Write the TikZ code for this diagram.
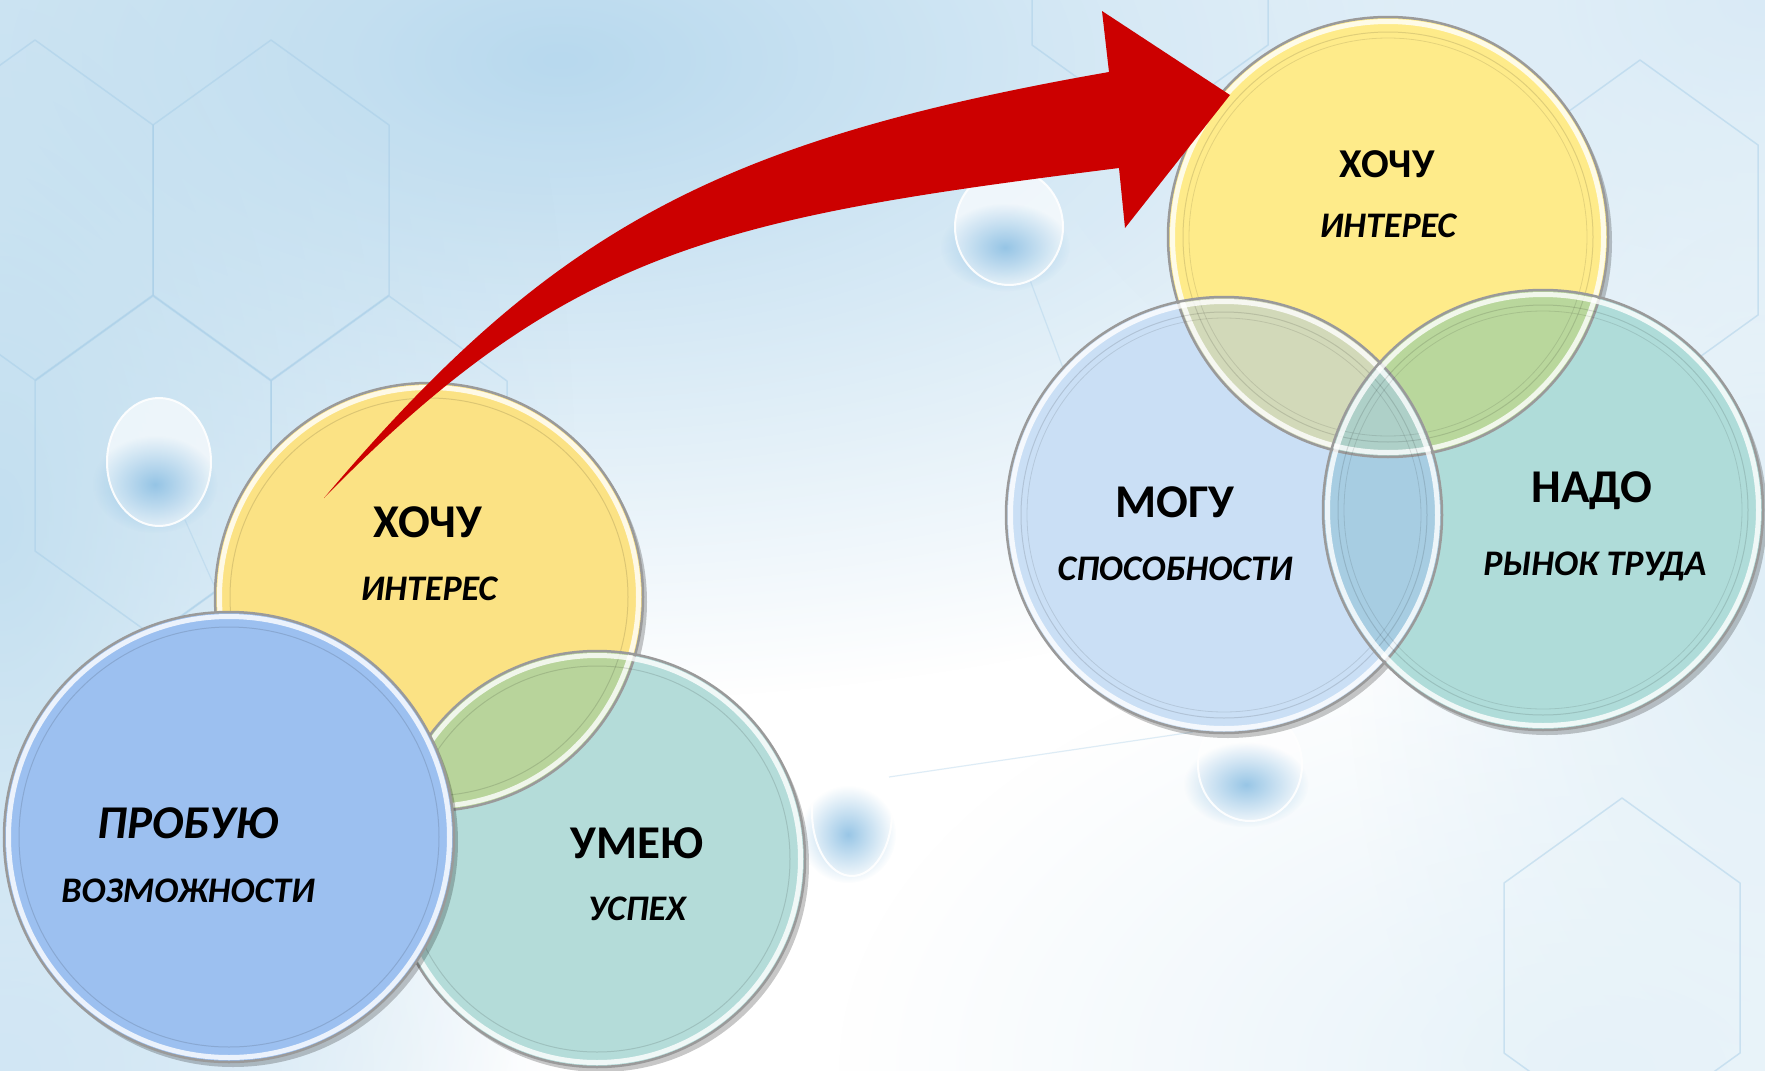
\documentclass[tikz,border=0pt]{standalone}
\usepackage{fontspec}
\setmainfont{Carlito}
\usetikzlibrary{fadings,calc}
\tikzfading[name=softblob, inner color=transparent!0, outer color=transparent!100]
\definecolor{bgblue}{HTML}{B8D9EE}
\definecolor{hexblue}{HTML}{A3CBE6}
\definecolor{lyel}{HTML}{FBE284}
\definecolor{lteal}{HTML}{B4DCD9}
\definecolor{lblue}{HTML}{9CC0F0}
\definecolor{llens}{HTML}{B8D49B}
\definecolor{ryel}{HTML}{FEEB8A}
\definecolor{rblue}{HTML}{CADFF5}
\definecolor{rteal}{HTML}{AFDCD9}
\definecolor{ryb}{HTML}{D2D9B9}
\definecolor{ryt}{HTML}{B9D79C}
\definecolor{rbt}{HTML}{A7CDE2}
\definecolor{rybt}{HTML}{AED0C8}
\definecolor{arrowred}{HTML}{CC0000}
\definecolor{rimgray}{HTML}{9A9A9A}
\definecolor{bubblue}{HTML}{7FB8E0}
\newcommand\crim[2]{%
  \draw[rimgray, line width=2.5pt] (#1) circle [radius=#2];
  \draw[white, line width=5pt, opacity=0.8] (#1) circle [radius=#2-4.5];
  \draw[black, opacity=0.12, line width=1pt] (#1) circle [radius=#2-15];
}
\newcommand\cinner[2]{%
  \draw[black, opacity=0.10, line width=0.8pt] (#1) circle [radius=#2-21];
}
\newcommand\cshadow[2]{%
  \fill[black, opacity=0.22] ($(#1)+(4,5)$) circle [radius=#2];
}
\newcommand\myhex[2]{%
  \draw[hexstyle] (#1,#2-170) -- (#1+118,#2-85) -- (#1+118,#2+85) -- (#1,#2+170) -- (#1-118,#2+85) -- (#1-118,#2-85) -- cycle;
}
\newcommand\bubble[4]{% x y rx ry
  \fill[white, opacity=0.65] (#1,#2) ellipse [x radius=#3, y radius=#4];
  \fill[bubblue, opacity=0.8, path fading=softblob] (#1-4,#2+#4*0.35) ellipse [x radius=#3*1.2, y radius=#4*0.76];
  \draw[white, line width=2pt, opacity=0.9] (#1,#2) ellipse [x radius=#3, y radius=#4];
}
\tikzset{
  title/.style={font=\fontsize{47}{47}\selectfont\bfseries, inner sep=0pt, anchor=base},
  ititle/.style={font=\fontsize{47}{47}\selectfont\bfseries\itshape, inner sep=0pt, anchor=base},
  rtitle/.style={font=\fontsize{41}{41}\selectfont\bfseries, inner sep=0pt, anchor=base},
  sub/.style={font=\fontsize{36}{36}\selectfont\bfseries\itshape, inner sep=0pt, anchor=base},
  hexstyle/.style={draw=hexblue, line width=1.5pt, opacity=0.45, line join=round},
}
\begin{document}
\begin{tikzpicture}[x=1pt,y=-1pt]
\useasboundingbox (0,0) rectangle (1765,1071);
\fill[white] (0,0) rectangle (1765,1071);
% background
\fill[bgblue, path fading=softblob] (560,60) ellipse [x radius=1300, y radius=640];
\fill[bgblue!85, path fading=softblob] (0,520) ellipse [x radius=580, y radius=1150];
\fill[bgblue!55, path fading=softblob] (1765,0) ellipse [x radius=760, y radius=520];
\fill[bgblue!45, path fading=softblob] (1765,600) ellipse [x radius=420, y radius=760];
\fill[bgblue!35, path fading=softblob] (1600,1071) ellipse [x radius=760, y radius=460];
\fill[bgblue!65, path fading=softblob] (0,1071) ellipse [x radius=560, y radius=460];
\myhex{271}{210}
\myhex{35}{210}
\myhex{153}{466}
\myhex{389}{466}
\myhex{271}{722}
\myhex{1640}{230}
\myhex{1622}{968}
\myhex{1150}{-40}
\draw[hexblue, opacity=0.35, line width=1.2pt] (889,777) -- (1193,732);
\draw[hexblue, opacity=0.35, line width=1.2pt] (1030,280) -- (1075,400);
\draw[hexblue, opacity=0.35, line width=1.2pt] (185,520) -- (225,610);
\bubble{159}{462}{52}{64}
\bubble{1009}{227}{54}{58}
\bubble{1250}{765}{52}{56}
\bubble{852}{812}{40}{64}

% ---------- left group ----------
\coordinate (ly) at (429,597);
\coordinate (lt) at (597,859);
\coordinate (lb) at (229,837);
\cshadow{ly}{214}
\fill[lyel] (ly) circle [radius=214];
\cshadow{lt}{208}
\fill[lteal] (lt) circle [radius=208];
\begin{scope}
  \clip (ly) circle [radius=214];
  \fill[llens] (lt) circle [radius=208];
\end{scope}
\crim{ly}{214}
\crim{lt}{208}
\cshadow{lb}{225}
\fill[lblue] (lb) circle [radius=225];
\crim{lb}{225}

% ---------- right group ----------
\coordinate (ry) at (1388,237);
\coordinate (rb) at (1224,515);
\coordinate (rt) at (1543,510);
\cshadow{ry}{220}
\cshadow{rb}{218}
\cshadow{rt}{220}
\fill[ryel] (ry) circle [radius=220];
\fill[rblue] (rb) circle [radius=218];
\fill[rteal] (rt) circle [radius=220];
\begin{scope}
  \clip (ry) circle [radius=220];
  \fill[ryb] (rb) circle [radius=218];
\end{scope}
\begin{scope}
  \clip (ry) circle [radius=220];
  \fill[ryt] (rt) circle [radius=220];
\end{scope}
\begin{scope}
  \clip (rb) circle [radius=218];
  \fill[rbt] (rt) circle [radius=220];
\end{scope}
\begin{scope}
  \clip (ry) circle [radius=220];
  \clip (rb) circle [radius=218];
  \fill[rybt] (rt) circle [radius=220];
\end{scope}
\crim{ry}{220}\cinner{ry}{220}
\crim{rb}{218}\cinner{rb}{218}
\crim{rt}{220}\cinner{rt}{220}

% ---------- arrow ----------
\coordinate (atail) at (324,498);
\coordinate (aup) at (1109,72);
\coordinate (atop) at (1102,11);
\coordinate (atip) at (1230,95);
\coordinate (abot) at (1125,228);
\coordinate (alow) at (1119,168);
\fill[arrowred] (atail) .. controls (550,231) and (715,141) .. (aup)
  -- (atop) -- (atip) -- (abot) -- (alow)
  .. controls (722,218) and (569,248) .. (atail) -- cycle;

% ---------- texts ----------
\node[title] (lwant) at (428,537) {ХОЧУ};
\node[sub] (linterest) at (429,600) {ИНТЕРЕС};
\node[ititle] (ltry) at (188,838) {ПРОБУЮ};
\node[sub] (lposs) at (188,902) {ВОЗМОЖНОСТИ};
\node[title] (lcan) at (637,858) {УМЕЮ};
\node[sub] (lsucc) at (637,920) {УСПЕХ};
\node[rtitle] (rwant) at (1387,177) {ХОЧУ};
\node[sub] (rinterest) at (1388,237) {ИНТЕРЕС};
\node[title] (rable) at (1175,517) {МОГУ};
\node[sub] (rabil) at (1175,580) {СПОСОБНОСТИ};
\node[title] (rneed) at (1592,502) {НАДО};
\node[sub] (rmarket) at (1595,575) {РЫНОК ТРУДА};
\end{tikzpicture}
\end{document}
